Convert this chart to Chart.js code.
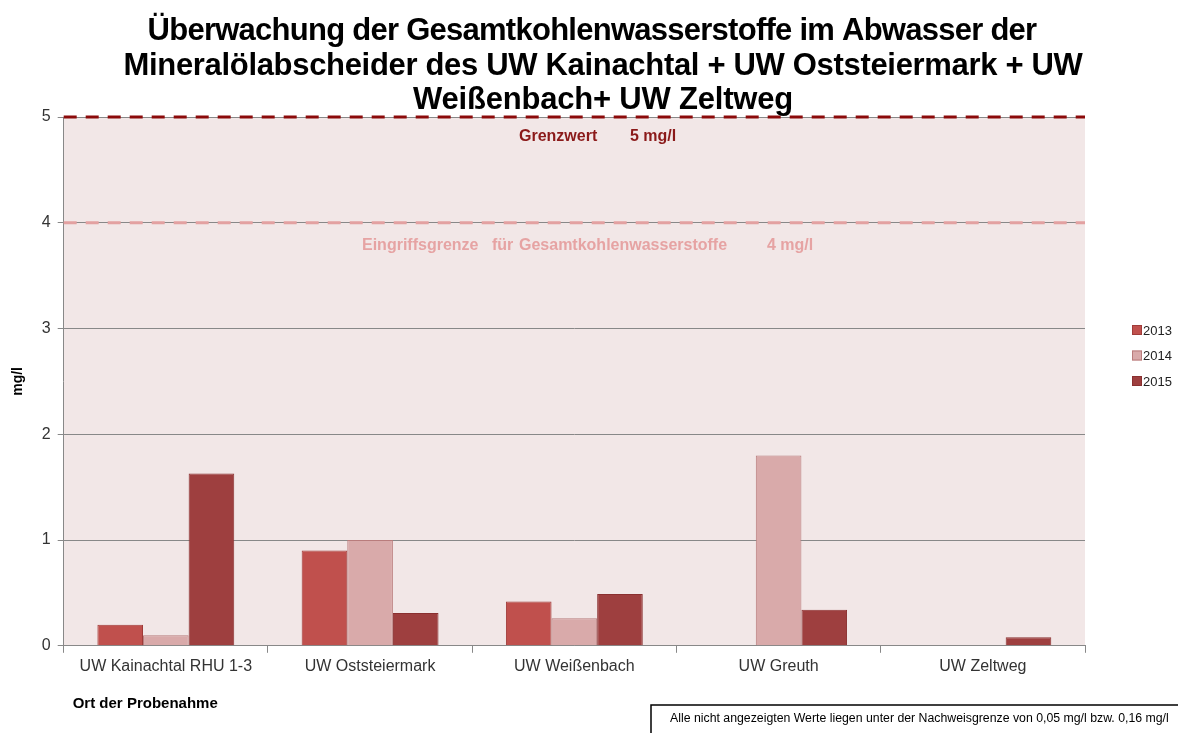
<!DOCTYPE html>
<html><head><meta charset="utf-8">
<script src="https://cdn.jsdelivr.net/npm/chart.js@4"></script>
<style>html,body{margin:0;padding:0;background:#fff}#wrap{width:1178px;height:733px}</style>
</head><body><div id="wrap"><canvas id="c" width="1178" height="733"></canvas></div>
<script>
const categories = ["UW Kainachtal RHU 1-3", "UW Oststeiermark", "UW Weißenbach", "UW Greuth", "UW Zeltweg"];
const values2013 = [0.2, 0.9, 0.42, null, null];
const values2014 = [0.1, 1.0, 0.26, 1.8, null];
const values2015 = [1.63, 0.31, 0.49, 0.34, 0.08];
const seriesLabels = ["2013", "2014", "2015"];
const yTicks = [0, 1, 2, 3, 4, 5];
const grenzwert = 5;
const eingriffsgrenze = 4;
const titleLines = ["Überwachung der Gesamtkohlenwasserstoffe im Abwasser der", "Mineralölabscheider des UW Kainachtal + UW Oststeiermark + UW", "Weißenbach+ UW Zeltweg"];
const noteText = "Alle nicht angezeigten Werte liegen unter der Nachweisgrenze von 0,05 mg/l bzw. 0,16 mg/l";

const FONT = "'Liberation Sans', Arial, sans-serif";
// title line layout: [centerX, baselineY, targetWidth]
const titleLayout = [[592, 39.5, 889], [603, 74.5, 959], [603, 108.5, 380]];

const decorPlugin = {
  id: 'decor',
  beforeDraw(chart) {
    const {ctx, chartArea: a} = chart;
    ctx.save();
    ctx.fillStyle = '#F2E7E7';
    ctx.fillRect(a.left, a.top, a.right - a.left, a.bottom - a.top);
    ctx.restore();
  },
  afterDatasetsDraw(chart) {
    const {ctx, chartArea: a, scales: {y}} = chart;
    ctx.save();
    const y5 = y.getPixelForValue(grenzwert);
    const y4 = y.getPixelForValue(eingriffsgrenze);
    ctx.lineWidth = 3;
    ctx.setLineDash([13, 9]);
    ctx.strokeStyle = '#8B0A0A';
    ctx.beginPath(); ctx.moveTo(a.left, y5); ctx.lineTo(a.right, y5); ctx.stroke();
    ctx.strokeStyle = '#E3A1A1';
    ctx.beginPath(); ctx.moveTo(a.left, y4); ctx.lineTo(a.right, y4); ctx.stroke();
    ctx.setLineDash([]);
    ctx.font = 'bold 16px ' + FONT;
    ctx.textBaseline = 'middle';
    ctx.textAlign = 'left';
    ctx.fillStyle = '#8B1A1A';
    ctx.fillText('Grenzwert', 519, y5 + 20);
    ctx.fillText(grenzwert + ' mg/l', 630, y5 + 20);
    ctx.fillStyle = '#E6A3A3';
    ctx.fillText('Eingriffsgrenze', 362, y4 + 23);
    ctx.fillText('für', 492, y4 + 23);
    ctx.fillText('Gesamtkohlenwasserstoffe', 519, y4 + 23);
    ctx.fillText(eingriffsgrenze + ' mg/l', 767, y4 + 23);
    ctx.restore();
  },
  afterDraw(chart) {
    const {ctx, chartArea: a} = chart;
    ctx.save();
    // title
    ctx.fillStyle = '#000';
    ctx.font = 'bold 31px ' + FONT;
    ctx.textBaseline = 'alphabetic';
    ctx.textAlign = 'left';
    titleLines.forEach((line, i) => {
      const [cx, by, tw] = titleLayout[i];
      ctx.letterSpacing = '0px';
      const nat = ctx.measureText(line).width;
      const ls = (tw - nat) / line.length;
      ctx.letterSpacing = ls.toFixed(2) + 'px';
      const w = ctx.measureText(line).width;
      ctx.fillText(line, cx - w / 2, by);
    });
    ctx.letterSpacing = '0px';
    // legend
    chart.data.datasets.forEach((ds, i) => {
      const cy = 330 + i * 25.5;
      ctx.fillStyle = ds.backgroundColor;
      ctx.fillRect(1132, cy - 5, 10, 10);
      ctx.strokeStyle = ds.borderColor;
      ctx.lineWidth = 1;
      ctx.strokeRect(1132.5, cy - 4.5, 9, 9);
      ctx.fillStyle = '#222';
      ctx.font = '13px ' + FONT;
      ctx.textBaseline = 'middle';
      ctx.textAlign = 'left';
      ctx.fillText(ds.label, 1143, cy + 1);
    });
    // x axis title
    ctx.fillStyle = '#000';
    ctx.font = 'bold 15px ' + FONT;
    ctx.textBaseline = 'middle';
    ctx.fillText('Ort der Probenahme', a.left + 9, a.bottom + 58);
    // note box
    ctx.strokeStyle = '#000';
    ctx.lineWidth = 1.5;
    ctx.fillStyle = '#fff';
    ctx.fillRect(651, 705, 540, 40);
    ctx.strokeRect(651, 705, 540, 40);
    ctx.fillStyle = '#000';
    ctx.font = '12.3px ' + FONT;
    ctx.fillText(noteText, 670, 719);
    ctx.restore();
  }
};

new Chart(document.getElementById('c'), {
  type: 'bar',
  data: {
    labels: categories,
    datasets: [
      {label: seriesLabels[0], data: values2013, backgroundColor: '#C0504D', borderColor: '#A03B39', borderWidth: 1},
      {label: seriesLabels[1], data: values2014, backgroundColor: '#D9AAAA', borderColor: '#B97C7C', borderWidth: 1},
      {label: seriesLabels[2], data: values2015, backgroundColor: '#9E3F3F', borderColor: '#8A3030', borderWidth: 1}
    ]
  },
  options: {
    responsive: false,
    animation: false,
    devicePixelRatio: 1,
    layout: {padding: {top: 117, right: 93, bottom: 53, left: 10}},
    datasets: {bar: {categoryPercentage: 0.67, barPercentage: 1.0}},
    plugins: {
      legend: {display: false},
      tooltip: {enabled: false},
      title: {display: false}
    },
    scales: {
      x: {
        grid: {display: true, drawOnChartArea: false, drawTicks: true, tickLength: 7, color: '#888', offset: true},
        border: {display: true, color: '#888', width: 1},
        ticks: {color: '#333', font: {family: FONT, size: 16}, padding: 4}
      },
      y: {
        min: 0, max: 5,
        afterBuildTicks(scale) { scale.ticks = yTicks.map(v => ({value: v})); },
        grid: {color: '#888', lineWidth: 1, tickLength: 6, drawTicks: true},
        border: {display: true, color: '#888', width: 1},
        ticks: {color: '#333', font: {family: FONT, size: 16}, padding: 7},
        title: {display: true, text: 'mg/l', color: '#000', font: {family: FONT, size: 14, weight: 'bold'}, padding: {top: 0, bottom: 8}}
      }
    }
  },
  plugins: [decorPlugin]
});
</script>
</body></html>
